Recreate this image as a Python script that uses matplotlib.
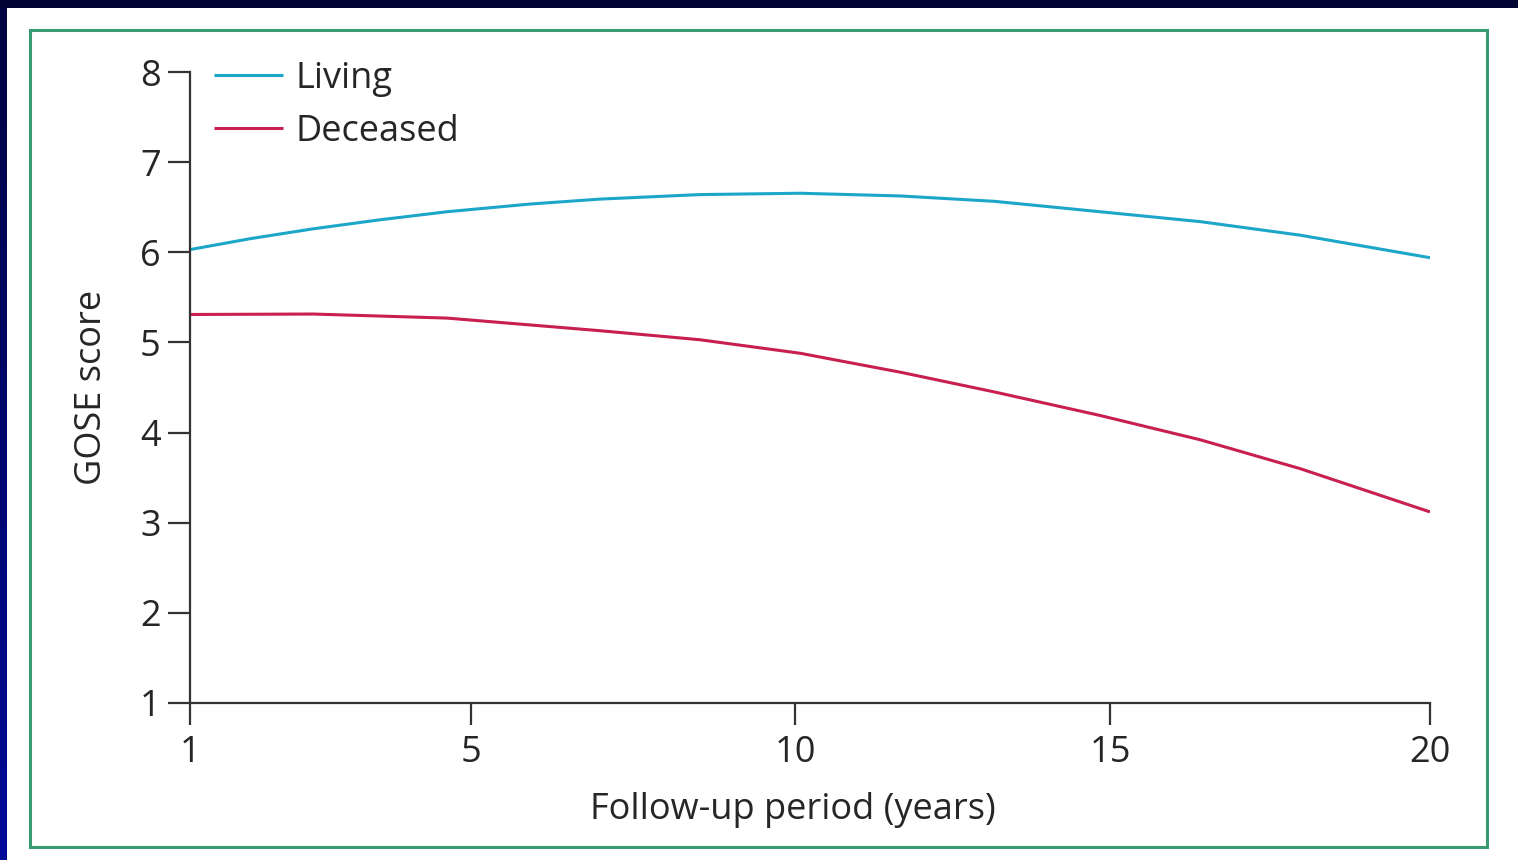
import numpy as np
import matplotlib
matplotlib.use("Agg")
import matplotlib.pyplot as plt
from matplotlib.patches import Rectangle
from matplotlib.colors import LinearSegmentedColormap

# ---- data ----
years_living = [1.0, 1.85, 2.75, 3.7, 4.66, 5.91, 6.99, 8.53, 10.08, 11.67, 13.17, 14.84, 16.41, 17.97, 20.0]
gose_living = [6.03, 6.15, 6.26, 6.36, 6.45, 6.535, 6.59, 6.64, 6.655, 6.625, 6.565, 6.45, 6.34, 6.19, 5.94]

years_deceased = [1.0, 2.75, 4.66, 6.99, 8.53, 10.08, 11.67, 13.17, 14.84, 16.41, 17.97, 20.0]
gose_deceased = [5.31, 5.315, 5.27, 5.13, 5.03, 4.88, 4.67, 4.45, 4.19, 3.92, 3.60, 3.12]

series_names = ["Living", "Deceased"]
x_ticks = [1, 5, 10, 15, 20]
y_ticks = [1, 2, 3, 4, 5, 6, 7, 8]
x_label = "Follow-up period (years)"
y_label = "GOSE score"

# tick spacing of the printed axis is not uniform (1 -> 5 is wider)
scale_nodes = [1, 5, 10, 15, 20]
scale_pos = [0.0, 281 / 1240, 605 / 1240, 920 / 1240, 1.0]

def fwd(x):
    return np.interp(x, scale_nodes, scale_pos)

def inv(p):
    return np.interp(p, scale_pos, scale_nodes)

FONT = "Open Sans"
TXT = "#262626"
plt.rcParams["font.family"] = [FONT, "DejaVu Sans"]

W, H = 1518, 860
fig = plt.figure(figsize=(W / 100, H / 100), dpi=100, facecolor="white")

# dark navy frame (top band and left gradient band)
fig.patches.append(Rectangle((0, 1 - 8 / H), 1, 8 / H, transform=fig.transFigure,
                             facecolor="#000433", edgecolor="none", zorder=0))
gax = fig.add_axes([0, 0, 7 / W, 1 - 8 / H])
grad = np.linspace(0, 1, 256).reshape(-1, 1)
cmap = LinearSegmentedColormap.from_list("navy", ["#000a99", "#000340"])
gax.imshow(grad, aspect="auto", cmap=cmap, origin="lower")
gax.axis("off")

# green border
fig.patches.append(Rectangle((30 / W, 1 - 847 / H), 1457 / W, 817 / H, transform=fig.transFigure,
                             facecolor="none", edgecolor="#3a9a70", linewidth=2.2, zorder=1))

ax = fig.add_axes([190 / W, 1 - 703 / H, 1240 / W, 631 / H])
ax.set_xscale("function", functions=(fwd, inv))

ax.plot(years_living, gose_living, color="#1ca6c9", lw=2.2, label=series_names[0],
        solid_capstyle="butt", solid_joinstyle="round")
ax.plot(years_deceased, gose_deceased, color="#c81f4f", lw=2.2, label=series_names[1],
        solid_capstyle="butt", solid_joinstyle="round")

ax.set_xlim(1, 20)
ax.set_ylim(1, 8)
ax.set_xticks(x_ticks)
ax.set_xticklabels([str(t) for t in x_ticks])
ax.set_yticks(y_ticks)
ax.set_yticklabels([str(t) for t in y_ticks])
ax.minorticks_off()

for s in ["top", "right"]:
    ax.spines[s].set_visible(False)
for s in ["left", "bottom"]:
    ax.spines[s].set_color("#333333")
    ax.spines[s].set_linewidth(1.6)

ax.tick_params(axis="both", direction="out", length=16, width=1.6, color="#333333",
               labelsize=26, labelcolor=TXT)
ax.tick_params(axis="y", pad=5)
ax.tick_params(axis="x", pad=7)
ax.patch.set_alpha(0)

ax.set_xlabel(x_label, fontsize=26, color=TXT)
ax.set_ylabel(y_label, fontsize=26, color=TXT)
ax.xaxis.set_label_coords((793 - 190) / 1240, -0.141)
ax.yaxis.set_label_coords((110 - 190) / 1240, 0.5)

leg = ax.legend(loc="upper left", bbox_to_anchor=(0.0194, 1.018), frameon=False,
                fontsize=26, handlelength=1.9, handletextpad=0.35, labelspacing=0.47,
                borderpad=0, borderaxespad=0)
for t in leg.get_texts():
    t.set_color(TXT)

fig.savefig("out.png", dpi=100, facecolor="white")
